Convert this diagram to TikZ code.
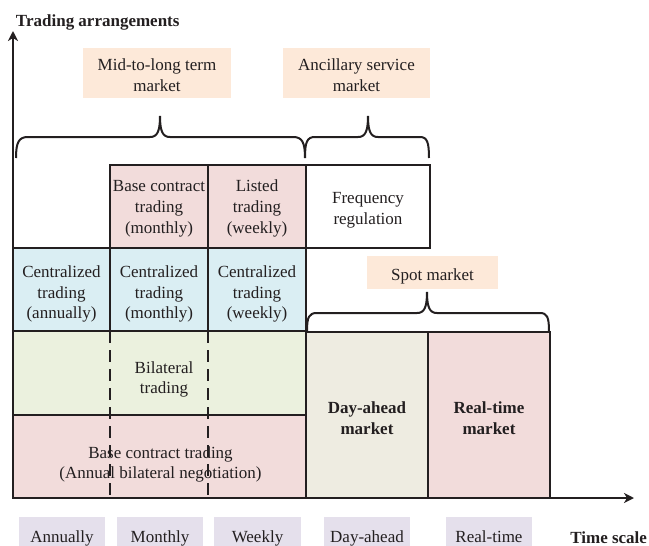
\documentclass[tikz,border=0pt]{standalone}
\usepackage{fontspec}
\setmainfont{Liberation Serif}
\usetikzlibrary{arrows.meta}
\definecolor{pinkc}{HTML}{F2DCDB}
\definecolor{bluec}{HTML}{DAEEF3}
\definecolor{greenc}{HTML}{EBF1DE}
\definecolor{beigec}{HTML}{EEECE1}
\definecolor{peachc}{HTML}{FDE9D9}
\definecolor{lavc}{HTML}{E5E0EC}
\definecolor{linec}{HTML}{231F20}
\begin{document}
\begin{tikzpicture}[x=1pt,y=-1pt,
  every node/.style={font=\fontsize{17}{20.8}\selectfont, inner sep=0pt, outer sep=0pt, align=center, text=linec},
  cell/.style={draw=linec, line width=1.8pt},
  tag/.style={fill=peachc},
  tick/.style={fill=lavc, text height=21pt, text depth=0pt},
  axis/.style={draw=linec, line width=2pt, -{Stealth[length=10pt,width=10pt,inset=3pt]}},
  bracel/.style={draw=linec, line width=2pt},
  divider/.style={draw=linec, line width=2pt, dash pattern=on 12pt off 7pt},
  bold/.style={font=\fontsize{17}{20.8}\selectfont\bfseries}]

\useasboundingbox (0,0) rectangle (649,546);

% axis titles
\node[anchor=base west, bold] (yl) at (16,27) {Trading arrangements};
\node[anchor=base east, bold] (xl) at (647,543) {Time scale};

% market labels
\node[tag, minimum width=148, minimum height=50] (mlt) at (157,73) {};
\node (mltt) at ([yshift=-2.5pt]mlt.center) {Mid-to-long term\\market};
\node[tag, minimum width=147, minimum height=50] (asm) at (356.5,73) {};
\node (asmt) at ([yshift=-2.5pt]asm.center) {Ancillary service\\market};
\node[tag, minimum width=131, minimum height=33, text height=19pt, text depth=3pt] (spot) at (432.5,272.5) {Spot market};

% cells
\node[cell, fill=pinkc, minimum width=98, minimum height=83] (bcm) at (159,206.5) {};
\node[cell, fill=pinkc, minimum width=98, minimum height=83] (ltw) at (257,206.5) {};
\node[cell, fill=white, minimum width=124, minimum height=83] (freq) at (368,206.5) {};
\node[cell, fill=bluec, minimum width=97, minimum height=83] (ca) at (61.5,289.5) {};
\node[cell, fill=bluec, minimum width=98, minimum height=83] (cm) at (159,289.5) {};
\node[cell, fill=bluec, minimum width=98, minimum height=83] (cw) at (257,289.5) {};
\node[cell, fill=greenc, minimum width=293, minimum height=84] (bil) at (159.5,373) {};
\node[cell, fill=pinkc, minimum width=293, minimum height=83] (bct) at (159.5,456.5) {};
\node[cell, fill=beigec, minimum width=122, minimum height=166] (da) at (367,415) {};
\node[cell, fill=pinkc, minimum width=122, minimum height=166] (rt) at (489,415) {};

% cell texts
\node (bcmt) at ([yshift=-2pt]bcm.center) {Base contract\\trading\\(monthly)};
\node (ltwt) at ([yshift=-2pt]ltw.center) {Listed\\trading\\(weekly)};
\node (freqt) at ([yshift=-3.5pt]freq.center) {Frequency\\regulation};
\node (cat) at ([yshift=-4.5pt]ca.center) {Centralized\\trading\\(annually)};
\node (cmt) at ([yshift=-4.5pt]cm.center) {Centralized\\trading\\(monthly)};
\node (cwt) at ([yshift=-4.5pt]cw.center) {Centralized\\trading\\(weekly)};
\node (bilt) at (164,379.5) {Bilateral\\trading};
\node (bctt) at (160.5,464.5) {Base contract trading\\(Annual bilateral negotiation)};
\node[bold] (dat) at ([yshift=-3pt]da.center) {Day-ahead\\market};
\node[bold] (rtt) at ([yshift=-3pt]rt.center) {Real-time\\market};

% dashed dividers
\draw[divider] (cm.south west) -- (cm.south west |- bct.south);
\draw[divider] (cm.south east) -- (cm.south east |- bct.south);

% axes
\coordinate (O) at (13,498);
\coordinate (ytop) at (13,31);
\coordinate (xend) at (634,498);
\draw[axis] (O) -- (ytop);
\draw[axis] (O) -- (xend);

% braces
\draw[bracel] (16,158) .. controls (16,142) and (19,137) .. (28,137) -- (150,137)
  .. controls (157,137) and (160,132) .. (160,116)
  .. controls (160,132) and (163,137) .. (170,137) -- (293,137)
  .. controls (302,137) and (305,142) .. (305,158);
\draw[bracel] (305,158) .. controls (305,142) and (307,137) .. (315,137) -- (358,137)
  .. controls (365,137) and (368,132) .. (368,116)
  .. controls (368,132) and (371,137) .. (378,137) -- (420,137)
  .. controls (427,137) and (429,142) .. (429,158);
\draw[bracel] (307,331) .. controls (307,317) and (309,313) .. (317,313) -- (417,313)
  .. controls (424,313) and (427,308) .. (427,292)
  .. controls (427,308) and (430,313) .. (437,313) -- (540,313)
  .. controls (547,313) and (549,317) .. (549,331);

% time scale ticks
\node[tick, minimum width=86, minimum height=29] (tA) at (62,531.5) {Annually};
\node[tick, minimum width=86, minimum height=29] (tM) at (160,531.5) {Monthly};
\node[tick, minimum width=87, minimum height=29] (tW) at (257.5,531.5) {Weekly};
\node[tick, minimum width=86, minimum height=29] (tD) at (367,531.5) {Day-ahead};
\node[tick, minimum width=86, minimum height=29] (tR) at (489,531.5) {Real-time};
\end{tikzpicture}
\end{document}
